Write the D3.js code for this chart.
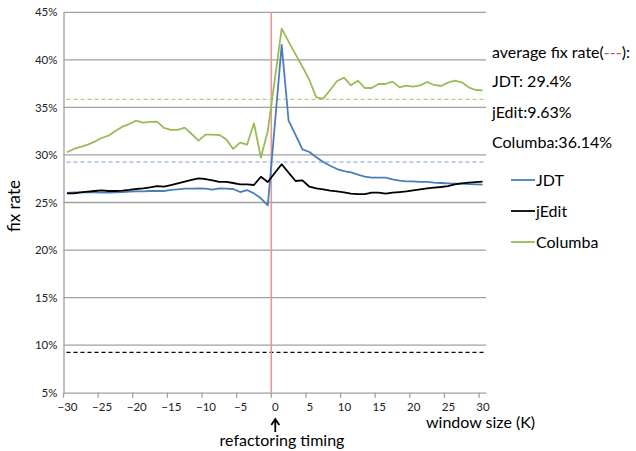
<!DOCTYPE html>
<html>
<head>
<meta charset="utf-8">
<script src="https://cdnjs.cloudflare.com/ajax/libs/d3/7.8.5/d3.min.js"></script>
<style>
body { margin: 0; background: #fff; }
text { font-family: Lato, "Open Sans", sans-serif; fill: #000; }
</style>
</head>
<body>
<script>
// window size K from -30 to 30
var windowSizes = d3.range(-30, 31);

// fix rate (%) per window size
var jdt = [26.0, 26.05, 26.07, 26.07, 26.07, 26.03, 26.03, 26.07, 26.10, 26.14,
  26.17, 26.17, 26.21, 26.21, 26.21, 26.32, 26.39, 26.45, 26.45, 26.49,
  26.45, 26.35, 26.49, 26.45, 26.42, 26.1, 26.31, 25.96, 25.44, 24.7,
  33.1,
  41.56, 33.6, 32.1, 30.59, 30.31, 29.75, 29.26, 28.87, 28.52, 28.31,
  28.17, 27.93, 27.72, 27.61, 27.61, 27.61, 27.44, 27.30, 27.23, 27.23,
  27.16, 27.16, 27.08, 27.05, 27.01, 26.98, 26.98, 26.94, 26.91, 26.88];

var jedit = [25.96, 25.96, 26.07, 26.14, 26.21, 26.28, 26.21, 26.21, 26.25, 26.32,
  26.42, 26.49, 26.60, 26.73, 26.66, 26.84, 27.02, 27.19, 27.37, 27.54,
  27.47, 27.33, 27.16, 27.16, 27.05, 26.91, 26.91, 26.84, 27.71, 27.15,
  28.1,
  29.02, 28.14, 27.26, 27.33, 26.66, 26.49, 26.38, 26.24, 26.17, 26.07,
  25.93, 25.89, 25.89, 26.03, 26.03, 25.93, 26.03, 26.10, 26.17, 26.28,
  26.38, 26.49, 26.56, 26.63, 26.73, 26.91, 27.01, 27.08, 27.15, 27.19];

var columba = [30.28, 30.63, 30.84, 31.08, 31.40, 31.78, 32.03, 32.52, 32.97, 33.25,
  33.61, 33.4, 33.47, 33.5, 32.84, 32.63, 32.63, 32.87, 32.2, 31.5,
  32.13, 32.13, 32.1, 31.64, 30.63, 31.3, 31.08, 33.33, 29.71, 32.55,
  37.9,
  43.28, 41.91, 40.58, 39.28, 37.88, 36.06, 35.92, 36.83, 37.78, 38.13,
  37.32, 37.81, 37.04, 37.04, 37.46, 37.46, 37.71, 37.11, 37.29, 37.18,
  37.32, 37.67, 37.36, 37.25, 37.6, 37.81, 37.64, 37.11, 36.83, 36.79];

// dashed average lines, as drawn
var seriesNames = ["JDT", "jEdit", "Columba"];
var avgLines = [29.26, 9.25, 35.85];
var avgLabels = ["JDT: 29.4%", "jEdit:9.63%", "Columba:36.14%"];
var yTicks = [5, 10, 15, 20, 25, 30, 35, 40, 45];
var xTicks = [-30, -25, -20, -15, -10, -5, 0, 5, 10, 15, 20, 25, 30];

var colors = ["#4a7ebb", "#000000", "#9bbb59"];
var dashColors = ["#7b9fd0", "#000000", "#b4cd82"];

var svg = d3.select("body").append("svg")
  .attr("width", 636)
  .attr("height", 451);

var x = d3.scaleLinear().domain([-30.5, 30.5]).range([63.5, 486]);
var y = d3.scaleLinear().domain([5, 45]).range([392.7, 12.3]);

// horizontal grid
svg.append("g").selectAll("line")
  .data(yTicks.slice(1))
  .enter().append("line")
  .attr("x1", x(-30.5)).attr("x2", x(30.5))
  .attr("y1", function(d) { return y(d); })
  .attr("y2", function(d) { return y(d); })
  .style("stroke", "#a0a0a0")
  .style("stroke-width", 1.3);

// y axis
var yAxis = svg.append("g")
  .attr("transform", "translate(" + x(-30.5) + ",0)")
  .call(d3.axisLeft(y).tickValues(yTicks).tickSize(0).tickPadding(6)
    .tickFormat(function(d) { return d + "%"; }));
yAxis.select(".domain").style("stroke", "#a0a0a0").style("stroke-width", 1.3);
yAxis.selectAll("text").style("font-size", "11.5px").style("fill", "#222");

// x axis: labels on categories, ticks on category boundaries
var xAxis = svg.append("g")
  .attr("transform", "translate(0," + y(5) + ")")
  .call(d3.axisBottom(x).tickValues(xTicks).tickSize(0).tickPadding(10));
xAxis.select(".domain").style("stroke", "#a0a0a0").style("stroke-width", 1.3);
xAxis.selectAll("text").style("font-size", "11.5px").style("fill", "#222");
svg.append("g").selectAll("line")
  .data(xTicks)
  .enter().append("line")
  .attr("x1", function(d) { return x(d - 0.5); })
  .attr("x2", function(d) { return x(d - 0.5); })
  .attr("y1", y(5)).attr("y2", y(5) + 5)
  .style("stroke", "#a0a0a0")
  .style("stroke-width", 1.3);

// average lines
svg.append("g").selectAll("line")
  .data(avgLines)
  .enter().append("line")
  .attr("x1", x(-30.5) + 3).attr("x2", x(30.5))
  .attr("y1", function(d) { return y(d); })
  .attr("y2", function(d) { return y(d); })
  .style("stroke", function(d, i) { return dashColors[i]; })
  .style("stroke-width", 1.2)
  .style("stroke-dasharray", "4,3");

// refactoring timing marker
svg.append("line")
  .attr("x1", x(-0.5)).attr("x2", x(-0.5))
  .attr("y1", y(45)).attr("y2", y(5))
  .style("stroke", "#e39a96")
  .style("stroke-width", 1.6);

// series lines
var line = d3.line()
  .x(function(d) { return x(d[0]); })
  .y(function(d) { return y(d[1]); });

[jdt, jedit, columba].forEach(function(s, i) {
  svg.append("path")
    .datum(windowSizes.map(function(k, j) { return [k, s[j]]; }))
    .attr("d", line)
    .style("fill", "none")
    .style("stroke", colors[i])
    .style("stroke-width", 1.8)
    .style("stroke-linejoin", "round");
});

// axis titles
svg.append("text")
  .attr("transform", "translate(20,206) rotate(-90)")
  .attr("text-anchor", "middle")
  .style("font-size", "17px")
  .text("fix rate");

svg.append("text")
  .attr("x", 426).attr("y", 428)
  .style("font-size", "16px")
  .text("window size (K)");

svg.append("text")
  .attr("x", 282).attr("y", 446)
  .attr("text-anchor", "middle")
  .style("font-size", "16px")
  .text("refactoring timing");

// arrow under 0
var ax = x(-0.5) + 4;
svg.append("path")
  .attr("d", "M" + ax + ",432V420M" + (ax - 4) + ",425L" + ax + ",419L" + (ax + 4) + ",425")
  .style("fill", "none")
  .style("stroke", "#000")
  .style("stroke-width", 1.8);

// average annotation
var note = svg.append("text")
  .attr("x", 492).attr("y", 58)
  .style("font-size", "16px");
note.append("tspan").text("average fix rate(");
note.append("tspan").style("fill", "#c0504d").text("---");
note.append("tspan").text("):");

svg.append("g").selectAll("text")
  .data(avgLabels)
  .enter().append("text")
  .attr("x", 492)
  .attr("y", function(d, i) { return 87 + i * 30.5; })
  .style("font-size", "16px")
  .text(function(d) { return d; });

// legend
var legend = svg.append("g").selectAll("g")
  .data(seriesNames)
  .enter().append("g")
  .attr("transform", function(d, i) { return "translate(511," + (180 + i * 31) + ")"; });
legend.append("line")
  .attr("x1", 0).attr("x2", 24)
  .style("stroke", function(d, i) { return colors[i]; })
  .style("stroke-width", 1.8);
legend.append("text")
  .attr("x", 25).attr("y", 6)
  .style("font-size", "16px")
  .text(function(d) { return d; });
</script>
</body>
</html>
